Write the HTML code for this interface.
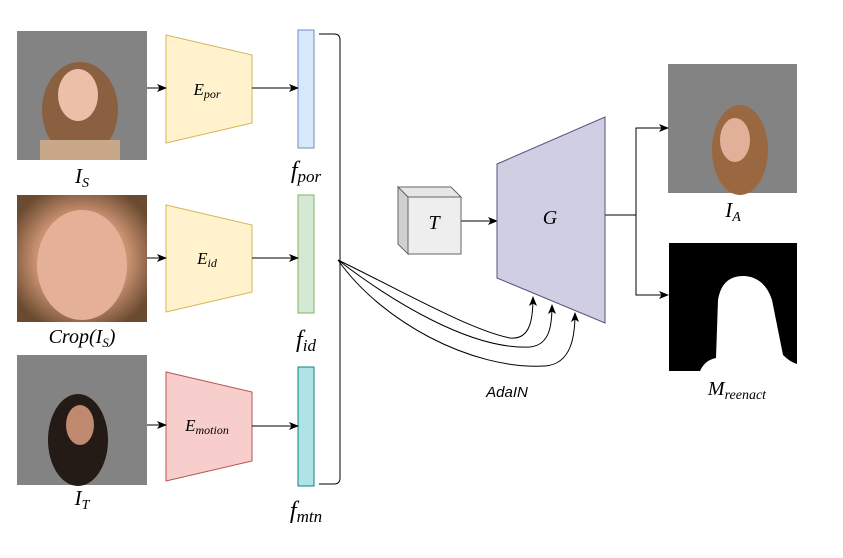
<!DOCTYPE html>
<html><head><meta charset="utf-8"><style>body{margin:0;background:#fff}svg{display:block}</style></head><body>
<svg width="843" height="558" viewBox="0 0 843 558" xmlns="http://www.w3.org/2000/svg" font-family="Liberation Serif, serif">
<defs>
<marker id="a" markerWidth="10" markerHeight="10" refX="9" refY="5" orient="auto" markerUnits="userSpaceOnUse"><path d="M0,1 L10,5 L0,9 L2.5,5z" fill="#000"/></marker>
<radialGradient id="face" cx="50%" cy="50%" r="60%"><stop offset="0" stop-color="#e8b8a0"/><stop offset="0.6" stop-color="#c89070"/><stop offset="1" stop-color="#6a4a30"/></radialGradient>
</defs>
<rect x="17" y="31" width="130" height="129" fill="#838383"/>
<ellipse cx="80" cy="110" rx="38" ry="48" fill="#8a6040"/>
<ellipse cx="78" cy="95" rx="20" ry="26" fill="#ecc0a8"/>
<rect x="40" y="140" width="80" height="20" fill="#c8a888"/>
<rect x="17" y="195" width="130" height="127" fill="url(#face)"/>
<ellipse cx="82" cy="265" rx="45" ry="55" fill="#e4b098"/>
<rect x="17" y="355" width="130" height="130" fill="#838383"/>
<ellipse cx="78" cy="440" rx="30" ry="46" fill="#241a16"/>
<ellipse cx="80" cy="425" rx="14" ry="20" fill="#c08a70"/>
<rect x="668" y="64" width="129" height="129" fill="#838383"/>
<ellipse cx="740" cy="150" rx="28" ry="45" fill="#9a6840"/>
<ellipse cx="735" cy="140" rx="15" ry="22" fill="#e0b098"/>
<rect x="669" y="243" width="128" height="128" fill="#000"/>
<path d="M700,371 Q705,360 716,358 L718,300 Q722,275 745,276 Q765,278 772,300 L783,355 Q790,362 797,364 L797,371 Z" fill="#fff"/>
<g stroke-width="1">
<polygon points="166,35 252,55 252,123 166,143" fill="#fff2cc" stroke="#d6b656"/>
<polygon points="166,205 252,225 252,292 166,312" fill="#fff2cc" stroke="#d6b656"/>
<polygon points="166,372 252,392 252,461 166,481" fill="#f8cecc" stroke="#b85450"/>
<rect x="298" y="30" width="16" height="118" fill="#dae8fc" stroke="#6c8ebf"/>
<rect x="298" y="195" width="16" height="118" fill="#d5e8d4" stroke="#82b366"/>
<rect x="298" y="367" width="16" height="119" fill="#b0e3e6" stroke="#0e8088"/>
</g>
<g stroke="#000" fill="none" stroke-width="1">
<line x1="147" y1="88" x2="166" y2="88" marker-end="url(#a)"/>
<line x1="147" y1="258" x2="166" y2="258" marker-end="url(#a)"/>
<line x1="147" y1="425" x2="166" y2="425" marker-end="url(#a)"/>
<line x1="252" y1="88" x2="298" y2="88" marker-end="url(#a)"/>
<line x1="252" y1="258" x2="298" y2="258" marker-end="url(#a)"/>
<line x1="252" y1="426" x2="298" y2="426" marker-end="url(#a)"/>
<path d="M319,34 L334,34 Q340,34 340,40 L340,478 Q340,484 334,484 L319,484"/>
<path d="M338,260 C400,290 470,330 510,338 C530,340 533,320 533,297" marker-end="url(#a)"/>
<path d="M338,260 C390,300 470,350 530,347 C550,345 552,325 552,305" marker-end="url(#a)"/>
<path d="M338,260 C380,320 470,370 545,366 C572,364 575,335 575,313" marker-end="url(#a)"/>
<line x1="461" y1="221" x2="497" y2="221" marker-end="url(#a)"/>
<polyline points="605,215 636,215"/>
<polyline points="650,128 636,128 636,295 650,295"/>
<line x1="640" y1="128" x2="668" y2="128" marker-end="url(#a)"/>
<line x1="640" y1="295" x2="668" y2="295" marker-end="url(#a)"/>
</g>
<polygon points="497,164 605,117 605,323 497,278" fill="#d0cee2" stroke="#56517e"/>
<polygon points="398,187 451,187 461,197 408,197" fill="#e6e6e6" stroke="#666"/>
<polygon points="398,187 408,197 408,254 398,244" fill="#d0d0d0" stroke="#666"/>
<rect x="408" y="197" width="53" height="57" fill="#eeeeee" stroke="#666"/>
<g font-style="italic" text-anchor="middle" fill="#000">
<text x="207" y="95" font-size="17">E<tspan font-size="12" dy="3">por</tspan></text>
<text x="207" y="264" font-size="17">E<tspan font-size="12" dy="3">id</tspan></text>
<text x="207" y="431" font-size="17">E<tspan font-size="12" dy="3">motion</tspan></text>
<text x="306" y="178" font-size="24">f<tspan font-size="17" dy="4">por</tspan></text>
<text x="306" y="347" font-size="24">f<tspan font-size="17" dy="4">id</tspan></text>
<text x="306" y="518" font-size="24">f<tspan font-size="17" dy="4">mtn</tspan></text>
<text x="82" y="183" font-size="21">I<tspan font-size="14" dy="4">S</tspan></text>
<text x="82" y="343" font-size="20">Crop(I<tspan font-size="13" dy="4">S</tspan><tspan dy="-4">)</tspan></text>
<text x="82" y="505" font-size="21">I<tspan font-size="14" dy="4">T</tspan></text>
<text x="434" y="229" font-size="20">T</text>
<text x="550" y="224" font-size="20">G</text>
<text x="733" y="217" font-size="21">I<tspan font-size="14" dy="4">A</tspan></text>
<text x="737" y="395" font-size="20">M<tspan font-size="14" dy="4">reenact</tspan></text>
<text x="507" y="397" font-size="15" font-family="Liberation Sans, sans-serif">AdaIN</text>
</g>
</svg>
</body></html>
